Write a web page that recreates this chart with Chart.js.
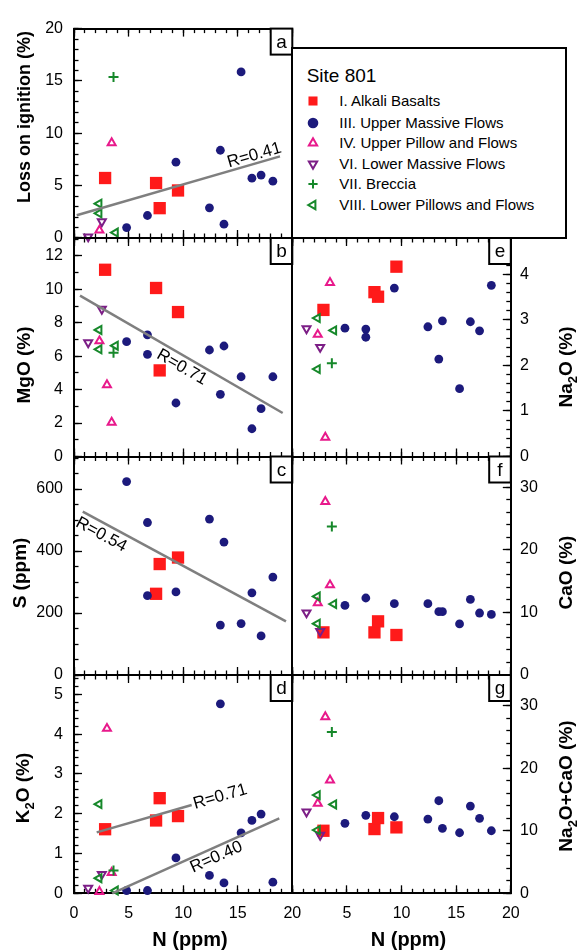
<!DOCTYPE html>
<html>
<head>
<meta charset="utf-8">
<script src="https://cdn.jsdelivr.net/npm/chart.js@4.4.1/dist/chart.umd.min.js"></script>
<style>
  body { margin: 0; background: #fff; }
  #wrap { position: relative; width: 579px; height: 950px; font-family: "Liberation Sans", Arial, Helvetica, sans-serif; }
  #wrap > canvas { position: absolute; left: 0; top: 0; }
  #legend { position: absolute; left: 291.3px; top: 46.7px; width: 275.7px; height: 192.3px;
            border: 2px solid #000; box-sizing: border-box; background: #fff; }
  #legend .title { position: absolute; left: 13.4px; top: 17.5px; font-size: 19px; line-height: 19px; }
  #legend .row { position: absolute; left: 0; width: 100%; height: 20px; }
  #legend .row canvas { position: absolute; left: 9.4px; top: 0; }
  #legend .row span { position: absolute; left: 46px; top: 0; font-size: 15px; line-height: 20px; white-space: nowrap; }
</style>
</head>
<body>
<div id="wrap">
  <div id="legend"><div class="title">Site 801</div></div>
</div>
<script>
const FONT = '"Liberation Sans", Arial, Helvetica, sans-serif';

// N (ppm) for each unit
const alkaliN       = [2.85, 7.52, 7.85, 9.53];
const upperMassiveN = [4.82, 6.73, 6.73, 9.34, 12.41, 13.41, 13.74, 15.31, 16.30, 17.14, 18.22];
const upperPillowN  = [2.33, 3.02, 3.45];
const lowerMassiveN = [1.30, 2.55];
const brecciaN      = [3.62];
const lowerPillowN  = [2.30, 2.30, 3.80];

// Loss on ignition (%)
const alkaliLOI       = [5.73, 5.25, 2.85, 4.54];
const upperMassiveLOI = [1.00, 2.15, null, 7.24, 2.88, 8.38, 1.32, 15.86, 5.71, 6.01, 5.43];
const upperPillowLOI  = [0.74, null, 9.08];
const lowerMassiveLOI = [0.12, 1.56];
const brecciaLOI      = [15.37];
const lowerPillowLOI  = [3.28, 2.36, 0.52];

// MgO (%)
const alkaliMgO       = [11.17, 10.08, 5.15, 8.64];
const upperMassiveMgO = [6.87, 7.27, 6.11, 3.20, 6.37, 3.72, 6.61, 4.77, 1.66, 2.86, 4.77];
const upperPillowMgO  = [6.91, 4.28, 2.04];
const lowerMassiveMgO = [6.81, 8.82];
const brecciaMgO      = [6.21];
const lowerPillowMgO  = [7.57, 6.41, 6.63];

// S (ppm)
const alkaliS       = [null, 262, 358, 379];
const upperMassiveS = [624, 492, 256, 268, 503, 161, 429, 166, 265, 126, 316];

// K2O (%)
const alkaliK2O       = [1.61, 1.83, 2.39, 1.94];
const upperMassiveK2O = [0.07, 0.07, null, 0.89, 0.45, 4.76, 0.26, 1.52, 1.83, 1.99, 0.28];
const upperPillowK2O  = [0.04, 4.14, 0.52];
const lowerMassiveK2O = [0.13, 0.48];
const brecciaK2O      = [0.57];
const lowerPillowK2O  = [2.24, 0.38, 0.07];

// Na2O (%)
const alkaliNa2O       = [3.22, 3.61, 3.51, 4.17];
const upperMassiveNa2O = [2.82, 2.80, 2.62, 3.70, 2.85, 2.14, 2.98, 1.49, 2.96, 2.76, 3.76];
const upperPillowNa2O  = [2.68, 0.42, 3.82];
const lowerMassiveNa2O = [2.81, 2.40];
const brecciaNa2O      = [2.05];
const lowerPillowNa2O  = [3.04, 1.92, 2.77];

// CaO (%)
const alkaliCaO       = [6.81, 6.81, 8.57, 6.39];
const upperMassiveCaO = [11.12, 12.30, null, 11.39, 11.39, 10.11, 10.11, 8.15, 12.07, 9.90, 9.68];
const upperPillowCaO  = [11.50, 27.70, 14.37];
const lowerMassiveCaO = [9.95, 6.97];
const brecciaCaO      = [23.70];
const lowerPillowCaO  = [12.55, 8.20, 11.34];

// Na2O+CaO (%)
const alkaliSum       = [10.00, 10.27, 12.03, 10.54];
const upperMassiveSum = [11.18, 12.46, null, 12.24, 11.87, 14.80, 10.38, 9.68, 13.95, 11.98, 10.00];
const upperPillowSum  = [14.37, 28.20, 18.10];
const lowerMassiveSum = [13.03, 9.31];
const brecciaSum      = [25.80];
const lowerPillowSum  = [15.70, 10.10, 14.20];

// regression lines (end points) and their labels
const fitLoiN = [0.25, 18.87],  fitLoiY = [2.18, 7.80];
const fitMgoN = [0.55, 19.12],  fitMgoY = [9.62, 2.60];
const fitSN   = [0.80, 19.42],  fitSY   = [527, 173];
const fitK2oAlkaliN  = [2.08, 10.78], fitK2oAlkaliY  = [1.53, 2.22];
const fitK2oMassiveN = [3.50, 18.81], fitK2oMassiveY = [0.00, 1.88];
const fitLabels = ['R=0.41', 'R=0.71', 'R=0.54', 'R=0.71', 'R=0.40'];

// tick labels
const nTicksLeft  = [0, 5, 10, 15, 20];
const nTicksRight = [5, 10, 15, 20];
const loiTicks  = [0, 5, 10, 15, 20];
const mgoTicks  = [0, 2, 4, 6, 8, 10, 12];
const sTicks    = [0, 200, 400, 600];
const k2oTicks  = [0, 1, 2, 3, 4, 5];
const na2oTicks = [0, 1, 2, 3, 4];
const caoTicks  = [0, 10, 20, 30];
const sumTicks  = [0, 10, 20, 30];

const unitNames = ['I. Alkali Basalts', 'III. Upper Massive Flows', 'IV. Upper Pillow and Flows',
                   'VI. Lower Massive Flows', 'VII. Breccia', 'VIII. Lower Pillows and Flows'];
const unitN = [alkaliN, upperMassiveN, upperPillowN, lowerMassiveN, brecciaN, lowerPillowN];

// marker styles per unit
const unitStyles = [
  { style: 'rect',     r: 8.7, lr: 6.4, rot: 0,   color: '#ff1a1a', fill: true,  bw: 0 },
  { style: 'circle',   r: 4.4, lr: 5.3, rot: 0,   color: '#1c1a7c', fill: true,  bw: 0 },
  { style: 'triangle', r: 4.6, lr: 4.8, rot: 0,   color: '#e8198b', fill: false, bw: 2 },
  { style: 'triangle', r: 4.6, lr: 4.8, rot: 180, color: '#7c1e86', fill: false, bw: 2 },
  { style: 'cross',    r: 5.0, lr: 4.6, rot: 0,   color: '#16882a', fill: false, bw: 2 },
  { style: 'triangle', r: 4.6, lr: 4.8, rot: 270, color: '#16882a', fill: false, bw: 2 }
];

// page geometry
const W = 579, H = 950;
const colX = [[74, 292.3], [292.3, 510.8]];
const rowY = [20.7, 238, 456.5, 675, 893.3];

const panels = [
  { row: 0, col: 0, letter: 'a', max: 20, ticks: loiTicks, minor: 1, title: 'Loss on ignition (%)', tSize: 18, tX: 30, tY: 117,
    vals: [alkaliLOI, upperMassiveLOI, upperPillowLOI, lowerMassiveLOI, brecciaLOI, lowerPillowLOI],
    fits: [{ n: fitLoiN, y: fitLoiY, label: fitLabels[0], t: 0.885, off: -8 }] },
  { row: 1, col: 0, letter: 'b', max: 13.07, ticks: mgoTicks, minor: 1, title: 'MgO (%)', tSize: 19, tX: 30, tY: 365,
    vals: [alkaliMgO, upperMassiveMgO, upperPillowMgO, lowerMassiveMgO, brecciaMgO, lowerPillowMgO],
    fits: [{ n: fitMgoN, y: fitMgoY, label: fitLabels[1], t: 0.53, off: 11 }] },
  { row: 2, col: 0, letter: 'c', max: 705, ticks: sTicks, minor: 50, title: 'S (ppm)', tSize: 19, tX: 26, tY: 573,
    vals: [alkaliS, upperMassiveS, [], [], [], []],
    fits: [{ n: fitSN, y: fitSY, label: fitLabels[2], t: 0.118, off: 11.4 }] },
  { row: 3, col: 0, letter: 'd', max: 5.485, ticks: k2oTicks, minor: 0.2, title: 'K_2O (%)', tSize: 19, tX: 29, tY: 788,
    vals: [alkaliK2O, upperMassiveK2O, upperPillowK2O, lowerMassiveK2O, brecciaK2O, lowerPillowK2O],
    fits: [{ n: fitK2oAlkaliN, y: fitK2oAlkaliY, label: fitLabels[3], t: 1.3, off: 0 },
           { n: fitK2oMassiveN, y: fitK2oMassiveY, label: fitLabels[4], t: 0.6, off: 9.6 }] },
  { row: 1, col: 1, letter: 'e', max: 4.8, ticks: na2oTicks, minor: 0.2, title: 'Na_2O (%)', tSize: 19, tX: 572, tY: 367,
    vals: [alkaliNa2O, upperMassiveNa2O, upperPillowNa2O, lowerMassiveNa2O, brecciaNa2O, lowerPillowNa2O], fits: [] },
  { row: 2, col: 1, letter: 'f', max: 34.9, ticks: caoTicks, minor: 2, title: 'CaO (%)', tSize: 19, tX: 572, tY: 572.5,
    vals: [alkaliCaO, upperMassiveCaO, upperPillowCaO, lowerMassiveCaO, brecciaCaO, lowerPillowCaO], fits: [] },
  { row: 3, col: 1, letter: 'g', max: 34.9, ticks: sumTicks, minor: 2, title: 'Na_2O+CaO (%)', tSize: 19, tX: 572, tY: 786,
    vals: [alkaliSum, upperMassiveSum, upperPillowSum, lowerMassiveSum, brecciaSum, lowerPillowSum], fits: [] }
];

// evenly spaced minor tick positions
function stepTicks(max, step) {
  const out = [];
  for (let k = 0; k * step <= max + 1e-9; k++) out.push({ value: k * step });
  return out;
}

// inward tick marks (negative tick length), no grid lines in the plot
const inwardTicks = len => ({ display: true, drawOnChartArea: false, drawTicks: true, tickLength: -len,
                              color: '#000', tickColor: '#000', tickWidth: 1.3 });
const frameBorder = { display: true, color: '#000', width: 2 };
const noBorder = { display: false };

// draw text rotated -90deg, with "_2" as a subscript
function drawVerticalTitle(ctx, text, size, cx, cy) {
  const parts = text.split(/_(\d)/).map((t, i) => ({ t, sub: i % 2 === 1 })).filter(s => s.t);
  const big = 'bold ' + size + 'px ' + FONT, small = 'bold ' + Math.round(size * 0.7) + 'px ' + FONT;
  let total = 0;
  parts.forEach(s => { ctx.font = s.sub ? small : big; s.w = ctx.measureText(s.t).width; total += s.w; });
  ctx.save();
  ctx.translate(cx, cy);
  ctx.rotate(-Math.PI / 2);
  ctx.fillStyle = '#000';
  ctx.textAlign = 'left';
  ctx.textBaseline = 'alphabetic';
  let x = -total / 2;
  parts.forEach(s => { ctx.font = s.sub ? small : big; ctx.fillText(s.t, x, s.sub ? 5 : 0); x += s.w; });
  ctx.restore();
}

function decoPlugin(p) {
  return {
    id: 'panelDeco',
    afterDatasetsDraw(chart) {
      const { ctx, chartArea: a } = chart;
      const xs = chart.scales.x, ys = chart.scales.y;
      ctx.save();
      // R labels along the fit lines
      ctx.fillStyle = '#000';
      ctx.font = '17px ' + FONT;
      ctx.textAlign = 'center';
      ctx.textBaseline = 'middle';
      p.fits.forEach(f => {
        const x0 = xs.getPixelForValue(f.n[0]), y0 = ys.getPixelForValue(f.y[0]);
        const x1 = xs.getPixelForValue(f.n[1]), y1 = ys.getPixelForValue(f.y[1]);
        const ang = Math.atan2(y1 - y0, x1 - x0);
        const cx = x0 + f.t * (x1 - x0) - Math.sin(ang) * f.off;
        const cy = y0 + f.t * (y1 - y0) + Math.cos(ang) * f.off;
        ctx.save();
        ctx.translate(cx, cy);
        ctx.rotate(ang);
        ctx.fillText(f.label, 0, 0);
        ctx.restore();
      });
      // panel letter box
      const bw = 21.6, bh = 26;
      ctx.fillStyle = '#fff';
      ctx.fillRect(a.right - bw, a.top, bw, bh);
      ctx.strokeStyle = '#000';
      ctx.lineWidth = 2;
      ctx.strokeRect(a.right - bw, a.top, bw, bh);
      ctx.fillStyle = '#000';
      ctx.font = '19px ' + FONT;
      ctx.fillText(p.letter, a.right - bw / 2, a.top + bh / 2 + 1);
      ctx.restore();
      // axis titles
      drawVerticalTitle(ctx, p.title, p.tSize, p.tX, p.tY);
      if (p.row === 3) {
        ctx.save();
        ctx.fillStyle = '#000';
        ctx.font = 'bold 20px ' + FONT;
        ctx.textAlign = 'center';
        ctx.textBaseline = 'middle';
        ctx.fillText('N (ppm)', p.col ? 408.5 : 190, 940);
        ctx.restore();
      }
    }
  };
}

const wrap = document.getElementById('wrap');

panels.forEach(p => {
  const datasets = [];
  p.fits.forEach(f => {
    datasets.push({
      data: f.n.map((n, i) => ({ x: n, y: f.y[i] })),
      showLine: true, borderColor: '#7f7f7f', borderWidth: 2.5,
      pointRadius: 0, pointHoverRadius: 0, order: 0, clip: false
    });
  });
  unitStyles.forEach((s, gi) => {
    const ys = p.vals[gi] || [];
    const pts = [];
    unitN[gi].forEach((n, i) => { if (ys[i] != null) pts.push({ x: n, y: ys[i] }); });
    datasets.push({
      label: unitNames[gi],
      data: pts,
      pointStyle: s.style,
      pointRadius: s.r,
      pointHoverRadius: s.r,
      pointRotation: s.rot,
      pointBackgroundColor: s.fill ? s.color : 'rgba(0,0,0,0)',
      pointBorderColor: s.color,
      pointBorderWidth: s.bw,
      order: unitStyles.length - gi,
      clip: false
    });
  });

  const bottomRow = p.row === 3;
  const xLabels = p.col ? nTicksRight : nTicksLeft;
  const ySide = p.col ? 'right' : 'left', yOther = p.col ? 'left' : 'right';
  const cv = document.createElement('canvas');
  cv.width = W; cv.height = H;
  wrap.insertBefore(cv, document.getElementById('legend'));

  new Chart(cv, {
    type: 'scatter',
    data: { datasets },
    options: {
      responsive: false,
      animation: false,
      events: [],
      layout: {
        padding: {
          left: p.col ? colX[1][0] : 0,
          right: p.col ? 0 : W - colX[0][1],
          top: rowY[p.row],
          bottom: bottomRow ? 0 : H - rowY[p.row + 1]
        }
      },
      plugins: { legend: { display: false }, tooltip: { enabled: false } },
      scales: {
        x: {
          type: 'linear', min: 0, max: 20, position: 'bottom', weight: 1,
          grid: inwardTicks(8), border: frameBorder,
          afterBuildTicks: s => { s.ticks = nTicksLeft.map(v => ({ value: v })); },
          afterFit: s => { s.height = bottomRow ? H - rowY[4] : 0; },
          ticks: { display: bottomRow, autoSkip: false, maxRotation: 0, padding: 18.4, color: '#000',
                   font: { size: 16, family: FONT }, callback: v => xLabels.includes(v) ? String(v) : '' }
        },
        xMinor: {
          type: 'linear', min: 0, max: 20, position: 'bottom', weight: 0,
          grid: inwardTicks(4.5), border: noBorder, ticks: { display: false },
          afterBuildTicks: s => { s.ticks = stepTicks(20, 1); },
          afterFit: s => { s.height = 0; }
        },
        xTop: {
          type: 'linear', min: 0, max: 20, position: 'top', weight: 1,
          grid: inwardTicks(8), border: frameBorder, ticks: { display: false },
          afterBuildTicks: s => { s.ticks = nTicksLeft.map(v => ({ value: v })); },
          afterFit: s => { s.height = 0; }
        },
        xTopMinor: {
          type: 'linear', min: 0, max: 20, position: 'top', weight: 0,
          grid: inwardTicks(4.5), border: noBorder, ticks: { display: false },
          afterBuildTicks: s => { s.ticks = stepTicks(20, 1); },
          afterFit: s => { s.height = 0; }
        },
        y: {
          type: 'linear', min: 0, max: p.max, position: ySide, weight: 1,
          grid: inwardTicks(8), border: frameBorder,
          afterBuildTicks: s => { s.ticks = p.ticks.map(v => ({ value: v })); },
          afterFit: s => { s.width = p.col ? W - colX[1][1] : colX[0][0]; },
          ticks: { autoSkip: false, padding: p.col ? 17.2 : 19, color: '#000',
                   font: { size: 16, family: FONT }, callback: v => String(v) }
        },
        yMinor: {
          type: 'linear', min: 0, max: p.max, position: ySide, weight: 0,
          grid: inwardTicks(4.5), border: noBorder, ticks: { display: false },
          afterBuildTicks: s => { s.ticks = stepTicks(p.max, p.minor); },
          afterFit: s => { s.width = 0; }
        },
        yOpposite: {
          type: 'linear', min: 0, max: p.max, position: yOther,
          grid: { display: false }, border: frameBorder, ticks: { display: false },
          afterFit: s => { s.width = 0; }
        }
      }
    },
    plugins: [decoPlugin(p)]
  });
});

// legend box
const legend = document.getElementById('legend');
const rowCenters = [52.3, 74, 94.6, 115.3, 135.6, 156.3];
unitNames.forEach((name, gi) => {
  const s = unitStyles[gi];
  const row = document.createElement('div');
  row.className = 'row';
  row.style.top = (rowCenters[gi] - 10) + 'px';
  const mc = document.createElement('canvas');
  mc.width = 20; mc.height = 20;
  const ctx = mc.getContext('2d');
  ctx.fillStyle = s.fill ? s.color : 'rgba(0,0,0,0)';
  ctx.strokeStyle = s.color;
  ctx.lineWidth = s.bw;
  Chart.helpers.drawPoint(ctx, { pointStyle: s.style, radius: s.lr, rotation: s.rot, borderWidth: s.bw }, 10, 10);
  const label = document.createElement('span');
  label.textContent = name;
  row.appendChild(mc);
  row.appendChild(label);
  legend.appendChild(row);
});
</script>
</body>
</html>
